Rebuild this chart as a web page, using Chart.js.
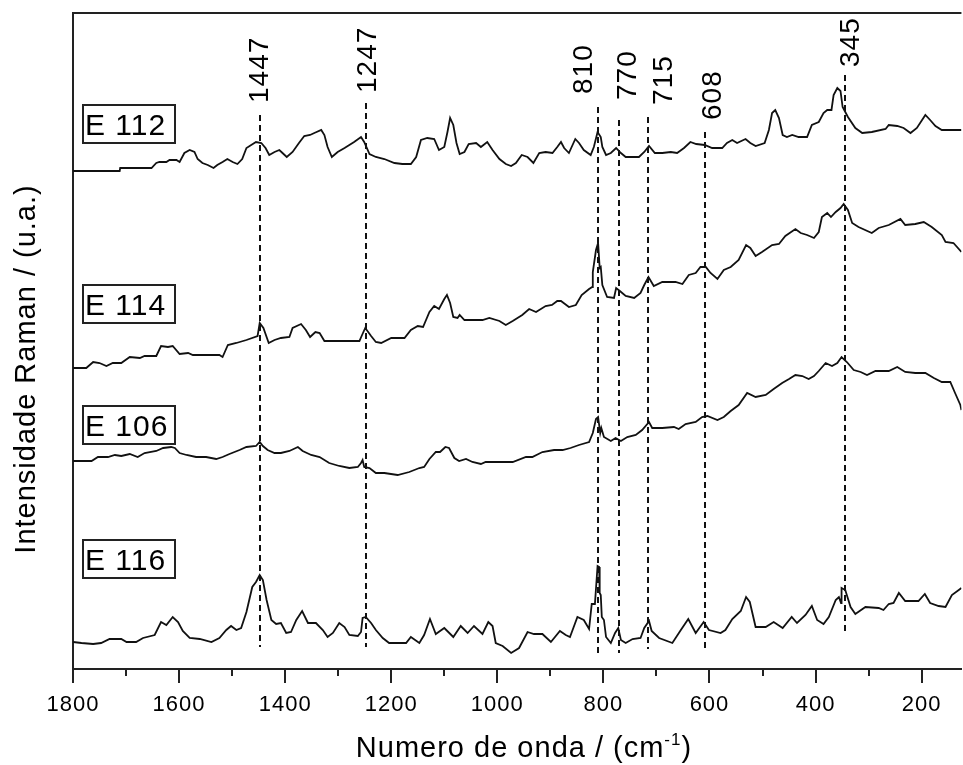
<!DOCTYPE html>
<html>
<head>
<meta charset="utf-8">
<title>Espectros Raman</title>
<script src="https://cdn.jsdelivr.net/npm/chart.js@4.4.1/dist/chart.umd.min.js"></script>
<style>
  html, body { margin: 0; padding: 0; background: #fff; overflow: hidden; }
  canvas { display: block; }
</style>
</head>
<body>
<canvas id="raman" width="963" height="765"></canvas>
<script>
// Raman spectra of four samples, stacked with vertical offsets (arbitrary units)

// E 112 (top trace)
const e112Wn = [1800,1712,1711,1652,1643,1637,1624,1618,1605,1599,1590,1580,1571,1565,1556,1546,1535,1528,1518,1509,
  1499,1490,1481,1473,1464,1455,1445,1437,1430,1420,1411,1405,1397,1386,1374,1364,1353,1345,1332,1326,
  1320,1312,1301,1288,1279,1270,1257,1251,1241,1229,1213,1194,1179,1163,1153,1144,1132,1119,1110,1100,
  1094,1089,1083,1077,1071,1062,1054,1040,1031,1019,1009,996,984,974,965,954,943,932,921,909,
  896,887,880,874,865,853,846,837,824,818,811,805,802,795,786,776,767,758,733,723,
  714,703,689,673,661,648,636,625,609,595,576,567,557,548,532,523,513,496,488,482,
  476,469,462,454,444,432,416,407,394,385,378,370,366,359,353,349,339,325,312,294,
  268,262,246,234,221,209,193,184,174,162,143,125];
const e112Int = [498,498,501,501,506,507,507,509,509,507,516,519,517,510,506,504,501,504,507,510,
  507,505,510,521,524,527,526,521,514,517,519,516,512,517,526,533,534,536,539,534,
  522,512,517,521,524,527,532,527,515,512,510,506,505,505,512,529,531,530,519,522,
  537,551,544,526,515,517,525,526,522,527,519,510,505,503,506,514,512,506,516,517,
  516,522,527,521,516,530,526,519,514,522,537,532,522,514,516,521,516,512,512,517,
  523,516,516,517,516,521,527,525,524,521,521,526,529,526,530,526,523,526,539,556,
  559,551,534,532,534,532,532,544,547,556,559,559,574,581,578,562,552,541,536,537,
  540,544,543,541,536,541,554,549,543,539,539,539];

// E 114
const e114Wn = [1800,1775,1762,1750,1737,1725,1709,1693,1674,1665,1643,1634,1621,1612,1599,1583,1574,1524,1518,1508,
  1492,1473,1452,1448,1441,1431,1420,1408,1392,1386,1370,1361,1353,1343,1335,1326,1260,1255,1249,1238,
  1229,1219,1200,1175,1163,1150,1140,1128,1119,1110,1100,1095,1089,1083,1075,1071,1062,1028,1015,996,
  984,971,953,940,927,909,897,887,880,865,852,841,827,821,820,814,810,807,805,802,
  793,780,776,769,758,742,730,723,715,705,689,664,651,639,626,617,607,598,585,573,
  560,545,531,523,513,501,482,469,457,438,428,416,403,394,388,378,371,362,353,347,
  339,331,319,294,281,262,240,231,212,196,181,162,155,140,125];
const e114Int = [301,301,307,306,303,306,306,312,311,313,313,323,322,323,315,316,314,314,312,324,
  326,329,333,346,341,326,329,331,332,341,345,339,332,337,336,328,328,334,341,333,
  327,326,331,331,339,343,342,357,363,360,370,374,366,352,351,354,349,349,351,348,
  344,348,354,360,357,363,364,368,368,362,364,374,380,382,397,419,426,401,402,384,
  372,371,381,378,373,371,376,384,392,383,387,387,385,394,396,402,402,396,390,399,
  402,409,424,421,413,417,424,425,433,440,436,434,431,437,452,456,452,457,461,465,
  459,446,442,436,441,444,450,444,445,447,442,434,427,426,417];

// E 106
const e106Wn = [1800,1765,1753,1734,1721,1709,1693,1678,1665,1643,1630,1615,1608,1599,1586,1568,1549,1530,1518,1505,
  1486,1473,1455,1448,1442,1433,1420,1408,1392,1376,1367,1351,1335,1317,1298,1279,1263,1257,1254,1251,
  1241,1229,1213,1188,1166,1147,1138,1128,1116,1108,1098,1091,1081,1072,1059,1047,1031,1022,971,946,
  934,915,893,877,862,846,827,820,814,810,806,804,799,786,777,767,755,739,727,714,
  708,689,667,658,645,626,614,604,585,573,560,545,529,513,494,479,463,450,438,425,
  413,403,394,381,369,359,351,341,328,315,303,287,262,246,231,212,193,177,162,146,
  137,127,125];
const e106Int = [208,208,212,212,214,213,215,212,216,218,221,222,221,216,214,212,212,210,212,215,
  219,222,223,227,223,219,216,216,218,222,218,214,212,206,203,201,202,206,209,202,
  201,196,196,194,197,201,202,210,217,217,222,221,211,208,210,207,205,207,207,212,
  212,217,219,219,221,224,227,236,250,252,236,241,232,228,231,228,232,234,239,247,
  241,241,242,240,245,247,252,253,249,252,258,264,276,272,274,280,286,290,294,293,
  290,293,298,306,303,306,312,307,299,297,294,298,298,302,297,296,296,291,287,287,
  276,264,259];

// E 116 (bottom trace)
const e116Wn = [1800,1784,1762,1747,1731,1709,1699,1681,1668,1646,1634,1624,1612,1602,1593,1580,1561,1539,1524,1511,
  1502,1492,1483,1473,1462,1455,1448,1442,1435,1426,1417,1408,1398,1389,1379,1368,1357,1342,1329,1320,
  1310,1298,1288,1279,1263,1257,1254,1248,1238,1229,1216,1204,1172,1163,1147,1138,1127,1116,1100,1083,
  1069,1056,1044,1028,1017,1009,1003,990,974,959,943,931,915,899,882,871,863,849,837,827,
  822,816,811,808,807,805,803,799,795,786,778,772,767,758,745,730,723,714,709,695,
  670,654,640,626,611,601,579,570,557,541,531,524,513,494,479,462,445,435,419,407,
  397,385,375,362,356,352,351,344,334,325,306,281,272,262,253,243,231,206,194,184,
  168,155,143,130,125];
const e116Int = [27,26,25,26,30,30,27,27,31,34,47,44,52,47,38,31,30,27,31,39,
  43,39,41,57,82,87,94,89,69,49,45,46,36,37,49,58,46,46,39,32,
  36,46,42,34,33,37,51,52,46,39,31,26,26,32,26,34,50,35,41,32,
  43,36,43,35,47,43,26,23,16,21,37,35,35,27,38,34,32,52,49,40,
  65,65,103,102,76,74,52,49,32,26,36,41,29,26,30,31,41,48,38,31,
  26,39,50,36,47,39,36,39,50,58,72,67,42,42,47,41,52,46,54,63,
  49,45,52,69,72,66,81,79,62,55,62,61,59,65,66,76,68,68,75,66,
  63,62,74,79,81];

// axis ticks
const xMin = 125, xMax = 1800;
const tickStep = 100;
const labelStep = 200;

// marked bands (cm-1) with the extent of each dashed marker
const peakWn = [1447, 1247, 810, 770, 715, 608, 345];
const peakText = ['1447', '1247', '810', '770', '715', '608', '345'];
const peakTop = [554, 566, 562, 549, 552, 537, 594];
const peakBottom = [22, 22, 16, 16, 20, 20, 37];

// sample tags
const sampleNames = ['E 112', 'E 114', 'E 106', 'E 116'];

// label placement (layout only)
const peakLabelBase = [566, 576, 575, 569, 564, 549, 602];
const peakLabelShift = [-2, 0, -16, 7, 14, 6, 4];
const tagTop = [564, 384, 263, 129];

const FONT = "'Liberation Sans', Arial, sans-serif";

function toPoints(wn, vals) {
  return wn.map((w, i) => ({ x: w, y: vals[i] }));
}

const spectra = [
  toPoints(e112Wn, e112Int),
  toPoints(e114Wn, e114Int),
  toPoints(e106Wn, e106Int),
  toPoints(e116Wn, e116Int)
];

// frame, tick marks, markers and all the free text
const decorations = {
  id: 'decorations',
  beforeDraw(chart) {
    chart.ctx.letterSpacing = '1px';
  },
  afterDraw(chart) {
    const { ctx, chartArea: area, scales: { x, y } } = chart;
    ctx.save();
    ctx.letterSpacing = '1px';

    // top edge of the frame
    ctx.strokeStyle = '#222';
    ctx.lineWidth = 2;
    ctx.beginPath();
    ctx.moveTo(area.left - 1, area.top);
    ctx.lineTo(area.right, area.top);
    ctx.stroke();

    // tick marks, long every 200, short every 100
    for (let v = xMax; v >= xMin; v -= tickStep) {
      const px = Math.round(x.getPixelForValue(v));
      const len = v % labelStep === 0 ? 14 : 7;
      ctx.beginPath();
      ctx.moveTo(px, area.bottom);
      ctx.lineTo(px, area.bottom + len);
      ctx.stroke();
    }

    // dashed band markers
    ctx.strokeStyle = '#111';
    ctx.lineWidth = 2;
    ctx.setLineDash([6, 4]);
    peakWn.forEach((wn, i) => {
      const px = Math.round(x.getPixelForValue(wn));
      ctx.beginPath();
      ctx.moveTo(px, y.getPixelForValue(peakTop[i]));
      ctx.lineTo(px, y.getPixelForValue(peakBottom[i]));
      ctx.stroke();
    });
    ctx.setLineDash([]);

    // band labels, written bottom to top
    ctx.fillStyle = '#000';
    ctx.font = '28px ' + FONT;
    ctx.textAlign = 'left';
    ctx.textBaseline = 'alphabetic';
    peakWn.forEach((wn, i) => {
      const cx = x.getPixelForValue(wn) + peakLabelShift[i];
      ctx.save();
      ctx.translate(cx + 10, y.getPixelForValue(peakLabelBase[i]));
      ctx.rotate(-Math.PI / 2);
      ctx.fillText(peakText[i], 0, 0);
      ctx.restore();
    });

    // boxed sample names
    ctx.font = '30px ' + FONT;
    ctx.lineWidth = 2;
    ctx.strokeStyle = '#222';
    sampleNames.forEach((name, i) => {
      const top = Math.round(y.getPixelForValue(tagTop[i]));
      const left = area.left + 10;
      ctx.strokeRect(left, top, 92, 38);
      ctx.fillText(name, left + 2, top + 30);
    });

    // y axis title
    ctx.font = '29px ' + FONT;
    ctx.save();
    ctx.translate(35, 369);
    ctx.rotate(-Math.PI / 2);
    ctx.textAlign = 'center';
    ctx.fillText('Intensidade Raman / (u.a.)', 0, 0);
    ctx.restore();

    // x axis title with superscript
    const main = 'Numero de onda / (cm';
    const sup = '-1';
    const close = ')';
    const bigFont = '29px ' + FONT;
    const supFont = '17px ' + FONT;
    ctx.font = bigFont;
    const wMain = ctx.measureText(main).width;
    const wClose = ctx.measureText(close).width;
    ctx.font = supFont;
    const wSup = ctx.measureText(sup).width;
    const total = wMain + wSup + wClose;
    let tx = 524 - total / 2;
    const base = 757;
    ctx.textAlign = 'left';
    ctx.font = bigFont;
    ctx.fillText(main, tx, base);
    tx += wMain;
    ctx.font = supFont;
    ctx.fillText(sup, tx, base - 12);
    tx += wSup;
    ctx.font = bigFont;
    ctx.fillText(close, tx, base);

    ctx.restore();
  }
};

const ctx = document.getElementById('raman').getContext('2d');

new Chart(ctx, {
  type: 'line',
  data: {
    datasets: spectra.map((pts, i) => ({
      label: sampleNames[i],
      data: pts,
      borderColor: '#111',
      borderWidth: 1.8,
      pointRadius: 0,
      tension: 0,
      fill: false
    }))
  },
  options: {
    responsive: false,
    animation: false,
    devicePixelRatio: 1,
    layout: { padding: { top: 13, right: 0, left: 0, bottom: 0 } },
    plugins: {
      legend: { display: false },
      tooltip: { enabled: false }
    },
    scales: {
      x: {
        type: 'linear',
        reverse: true,
        min: xMin,
        max: xMax,
        afterFit: (scale) => { scale.height = 96; },
        grid: { display: false, drawTicks: false },
        border: { display: true, width: 2, color: '#222' },
        ticks: {
          stepSize: tickStep,
          includeBounds: false,
          autoSkip: false,
          maxRotation: 0,
          padding: 23,
          color: '#000',
          font: { family: FONT, size: 22 },
          callback: (v) => (v % labelStep === 0 ? String(v) : '')
        }
      },
      y: {
        type: 'linear',
        min: 0,
        max: 656,
        afterFit: (scale) => { scale.width = 73; },
        grid: { display: false, drawTicks: false },
        border: { display: true, width: 2, color: '#222' },
        ticks: { display: false }
      }
    }
  },
  plugins: [decorations]
});
</script>
</body>
</html>
